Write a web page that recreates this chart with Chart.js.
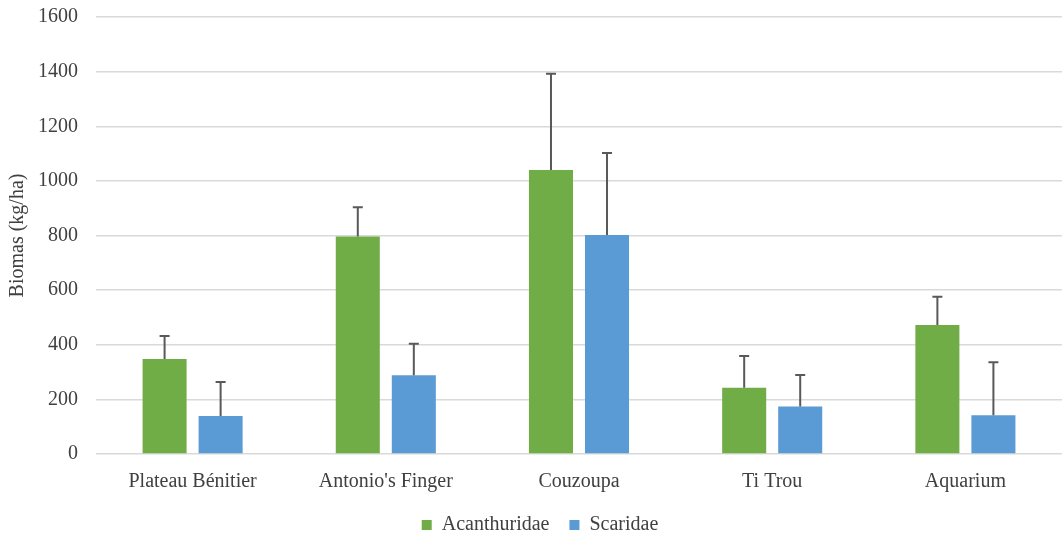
<!DOCTYPE html>
<html>
<head>
<meta charset="utf-8">
<script src="https://cdn.jsdelivr.net/npm/chart.js@4/dist/chart.umd.min.js"></script>
<style>
html,body{margin:0;padding:0;background:#fff;}
#wrap{width:1064px;height:538px;}
</style>
</head>
<body>
<div id="wrap"><canvas id="c" width="1064" height="538"></canvas></div>
<script>
const categories = ["Plateau Bénitier", "Antonio's Finger", "Couzoupa", "Ti Trou", "Aquarium"];
const acanthuridae = [348, 796, 1040, 243, 472];
const acanthuridaeErr = [84, 107, 352, 116, 104];
const scaridae = [139, 288, 802, 174, 142];
const scaridaeErr = [125, 116, 300, 115, 194];
const yTicks = [0, 200, 400, 600, 800, 1000, 1200, 1400, 1600];

const errorBars = {
  id: 'errorBars',
  afterDatasetsDraw(chart) {
    const ctx = chart.ctx;
    const y = chart.scales.y;
    ctx.save();
    ctx.strokeStyle = '#595959';
    ctx.lineWidth = 2;
    chart.data.datasets.forEach((ds, di) => {
      const meta = chart.getDatasetMeta(di);
      meta.data.forEach((bar, i) => {
        const top = y.getPixelForValue(ds.data[i] + ds.errPlus[i]);
        ctx.beginPath();
        ctx.moveTo(bar.x, bar.y);
        ctx.lineTo(bar.x, top);
        ctx.moveTo(bar.x - 5, top);
        ctx.lineTo(bar.x + 5, top);
        ctx.stroke();
      });
    });
    ctx.restore();
  }
};

const legendShift = {
  id: 'legendShift',
  afterLayout(chart) {
    if (chart.legend) { chart.legend.left += 18; }
  }
};

const font = { family: "'Liberation Serif', 'Times New Roman', serif", size: 20 };

new Chart(document.getElementById('c'), {
  type: 'bar',
  data: {
    labels: categories,
    datasets: [
      { label: 'Acanthuridae', data: acanthuridae, errPlus: acanthuridaeErr, backgroundColor: '#70AD47' },
      { label: 'Scaridae', data: scaridae, errPlus: scaridaeErr, backgroundColor: '#5B9BD5' }
    ]
  },
  options: {
    responsive: false,
    animation: false,
    devicePixelRatio: 1,
    categoryPercentage: 0.58,
    barPercentage: 0.786,
    layout: { padding: { top: 17, right: 2, left: 0, bottom: -7 } },
    plugins: {
      legend: {
        position: 'bottom',
        labels: { font: font, color: '#404040', boxWidth: 10, boxHeight: 10, padding: 20 }
      },
      tooltip: { enabled: false }
    },
    scales: {
      x: {
        grid: { display: false, drawTicks: false },
        border: { display: false },
        ticks: { font: font, color: '#404040', padding: 16 },
        afterFit(s) { s.height = 41; }
      },
      y: {
        min: 0, max: 1600,
        afterBuildTicks(s) { s.ticks = yTicks.map(v => ({ value: v })); },
        grid: { color: '#d9d9d9', lineWidth: 1.5, drawTicks: false },
        border: { display: false },
        ticks: { font: font, color: '#404040', padding: 18, callback: v => String(v) },
        title: { display: true, text: 'Biomas (kg/ha)', font: font, color: '#404040', padding: { top: 6, bottom: 0 } },
        afterFit(s) { s.width = 96; s.paddingTop = 0; s.paddingBottom = 0; }
      }
    }
  },
  plugins: [errorBars, legendShift]
});
</script>
</body>
</html>
